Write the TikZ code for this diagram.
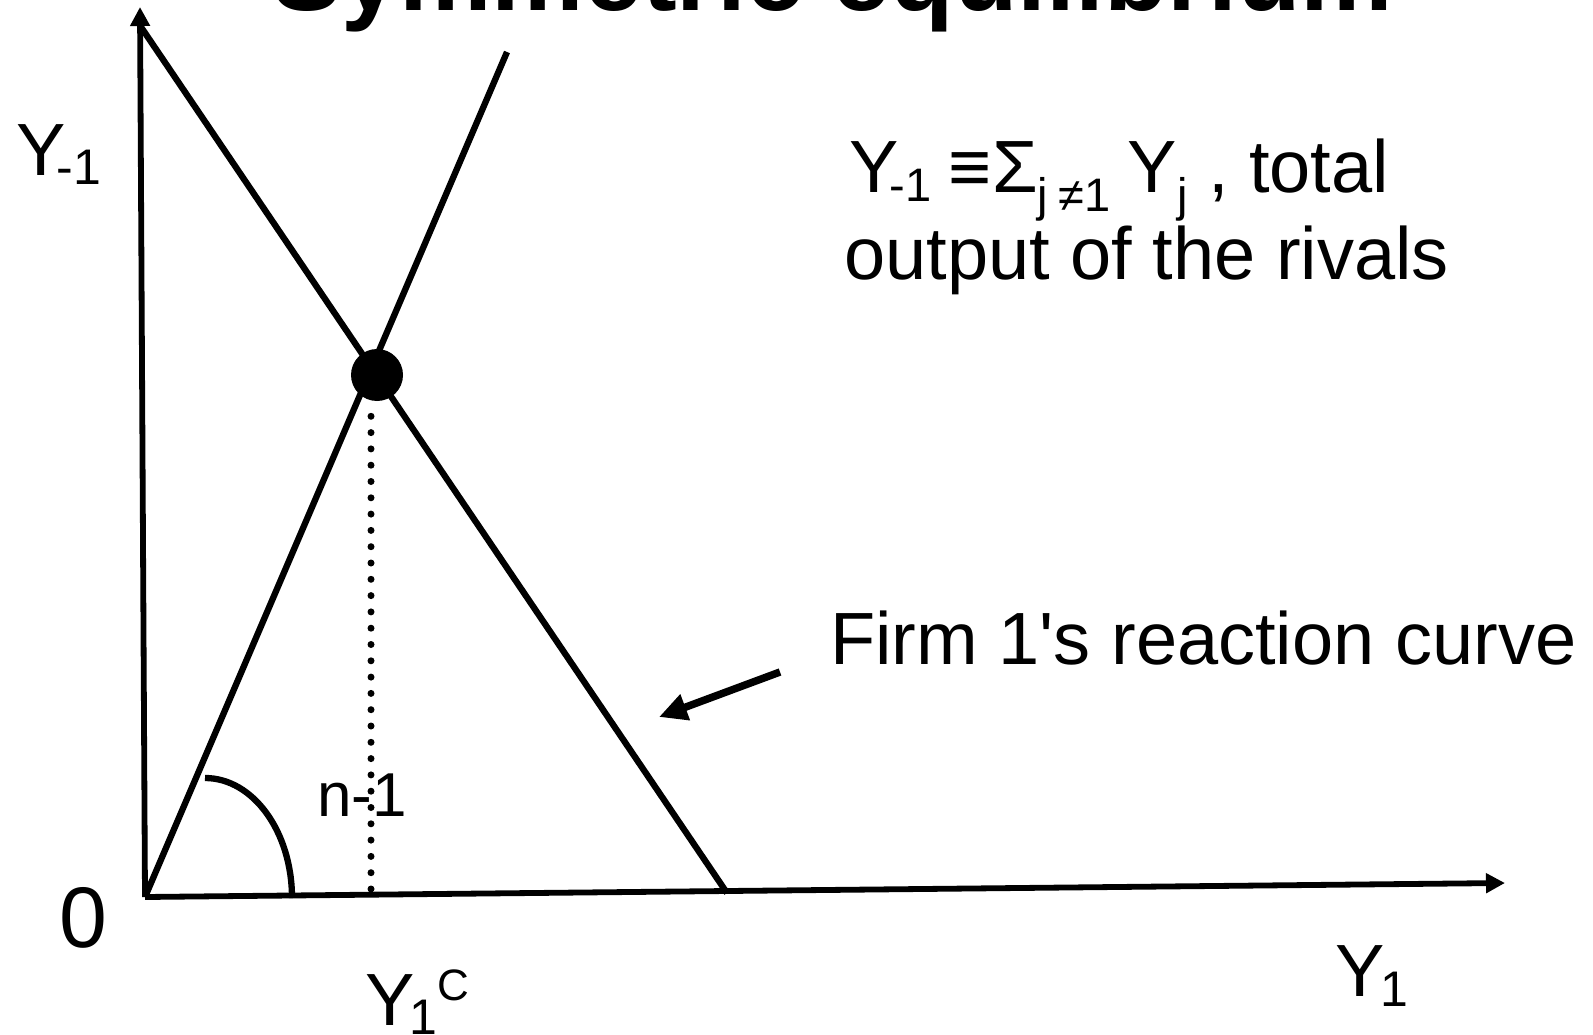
\documentclass[tikz,border=0pt]{standalone}
\usepackage{fontspec}
\setmainfont{Liberation Sans}
\usetikzlibrary{arrows.meta}
\newcommand\fsz[1]{\fontsize{#1pt}{#1pt}\selectfont}
\newcommand\lowtxt[2]{\raisebox{-#1pt}{\fsz{50}#2}}
\newcommand\lowsm[2]{\raisebox{-#1pt}{\fsz{47}#2}}
\begin{document}
\begin{tikzpicture}[x=1pt,y=-1pt, line width=6.3pt,
  lbl/.style={inner sep=0pt, anchor=base west},
  axis/.style={line width=5.8pt,-{Triangle[length=19pt,width=19pt]}},
  pointer/.style={line width=7.5pt,-{Triangle[length=28pt,width=26pt]}},
  dotline/.style={line width=7pt, line cap=round, dash pattern=on 0pt off 16.3pt},
]
\useasboundingbox (0,0) rectangle (1593,1035);
\clip (0,0) rectangle (1593,1035);
\node[lbl, font=\fsz{104}\bfseries] (title) at (269,11) {Symmetric equilibrium};
% axes
\coordinate (O) at (145,897);
\coordinate (ytop) at (140,7);
\coordinate (xend) at (1505,883);
\draw[axis] (O) -- (ytop);
\draw[axis] (O) -- (xend);
% reaction curve and ray
\coordinate (rtop) at (141,27);
\coordinate (rbot) at (727,893);
\draw (rtop) -- (rbot);
\coordinate (raytop) at (507,52);
\draw (O) -- (raytop);
% equilibrium point
\node[circle, fill, inner sep=0pt, minimum size=52pt] (eq) at (377,375) {};
\coordinate (cbot) at (371,889);
\draw[dotline] (cbot) -- (cbot |- eq.south);
% angle arc
\coordinate (arcstart) at (205,778);
\draw (arcstart) arc[start angle=-90, end angle=0, x radius=87, y radius=120];
% labels
\node[lbl, font=\fsz{74}] (ym1) at (13,176) {Y\kern-9pt\lowtxt{9}{-1}};
\node[lbl, font=\fsz{86}] (zero) at (56,947) {0};
\node[lbl, font=\fsz{62}] (nm1) at (314,816) {n-1};
\node[lbl, font=\fsz{74}] (y1c) at (362,1025) {Y\kern-5pt\lowtxt{9}{1}\raisebox{25pt}{\fsz{44}C}};
\node[lbl, font=\fsz{74}] (y1) at (1332,996) {Y\kern-4pt\lowtxt{10}{1}};
\node[lbl, font=\fsz{74}] (def1) at (846,193) {Y\kern-9pt\lowsm{9}{-1}\kern-3pt{} ≡Σ\lowsm{19}{j\kern-3pt{} ≠1}\kern-3pt{} Y\lowsm{19}{j} , total};
\node[lbl, font=\fsz{74}] (def2) at (841,279) {output of the rivals};
\node[lbl, font=\fsz{74}] (firm) at (827,664) {Firm 1\textquotesingle s reaction curve};
% pointer to reaction curve
\coordinate (atail) at (780,672);
\coordinate (atip) at (659,717);
\draw[pointer] (atail) -- (atip);
\end{tikzpicture}
\end{document}
